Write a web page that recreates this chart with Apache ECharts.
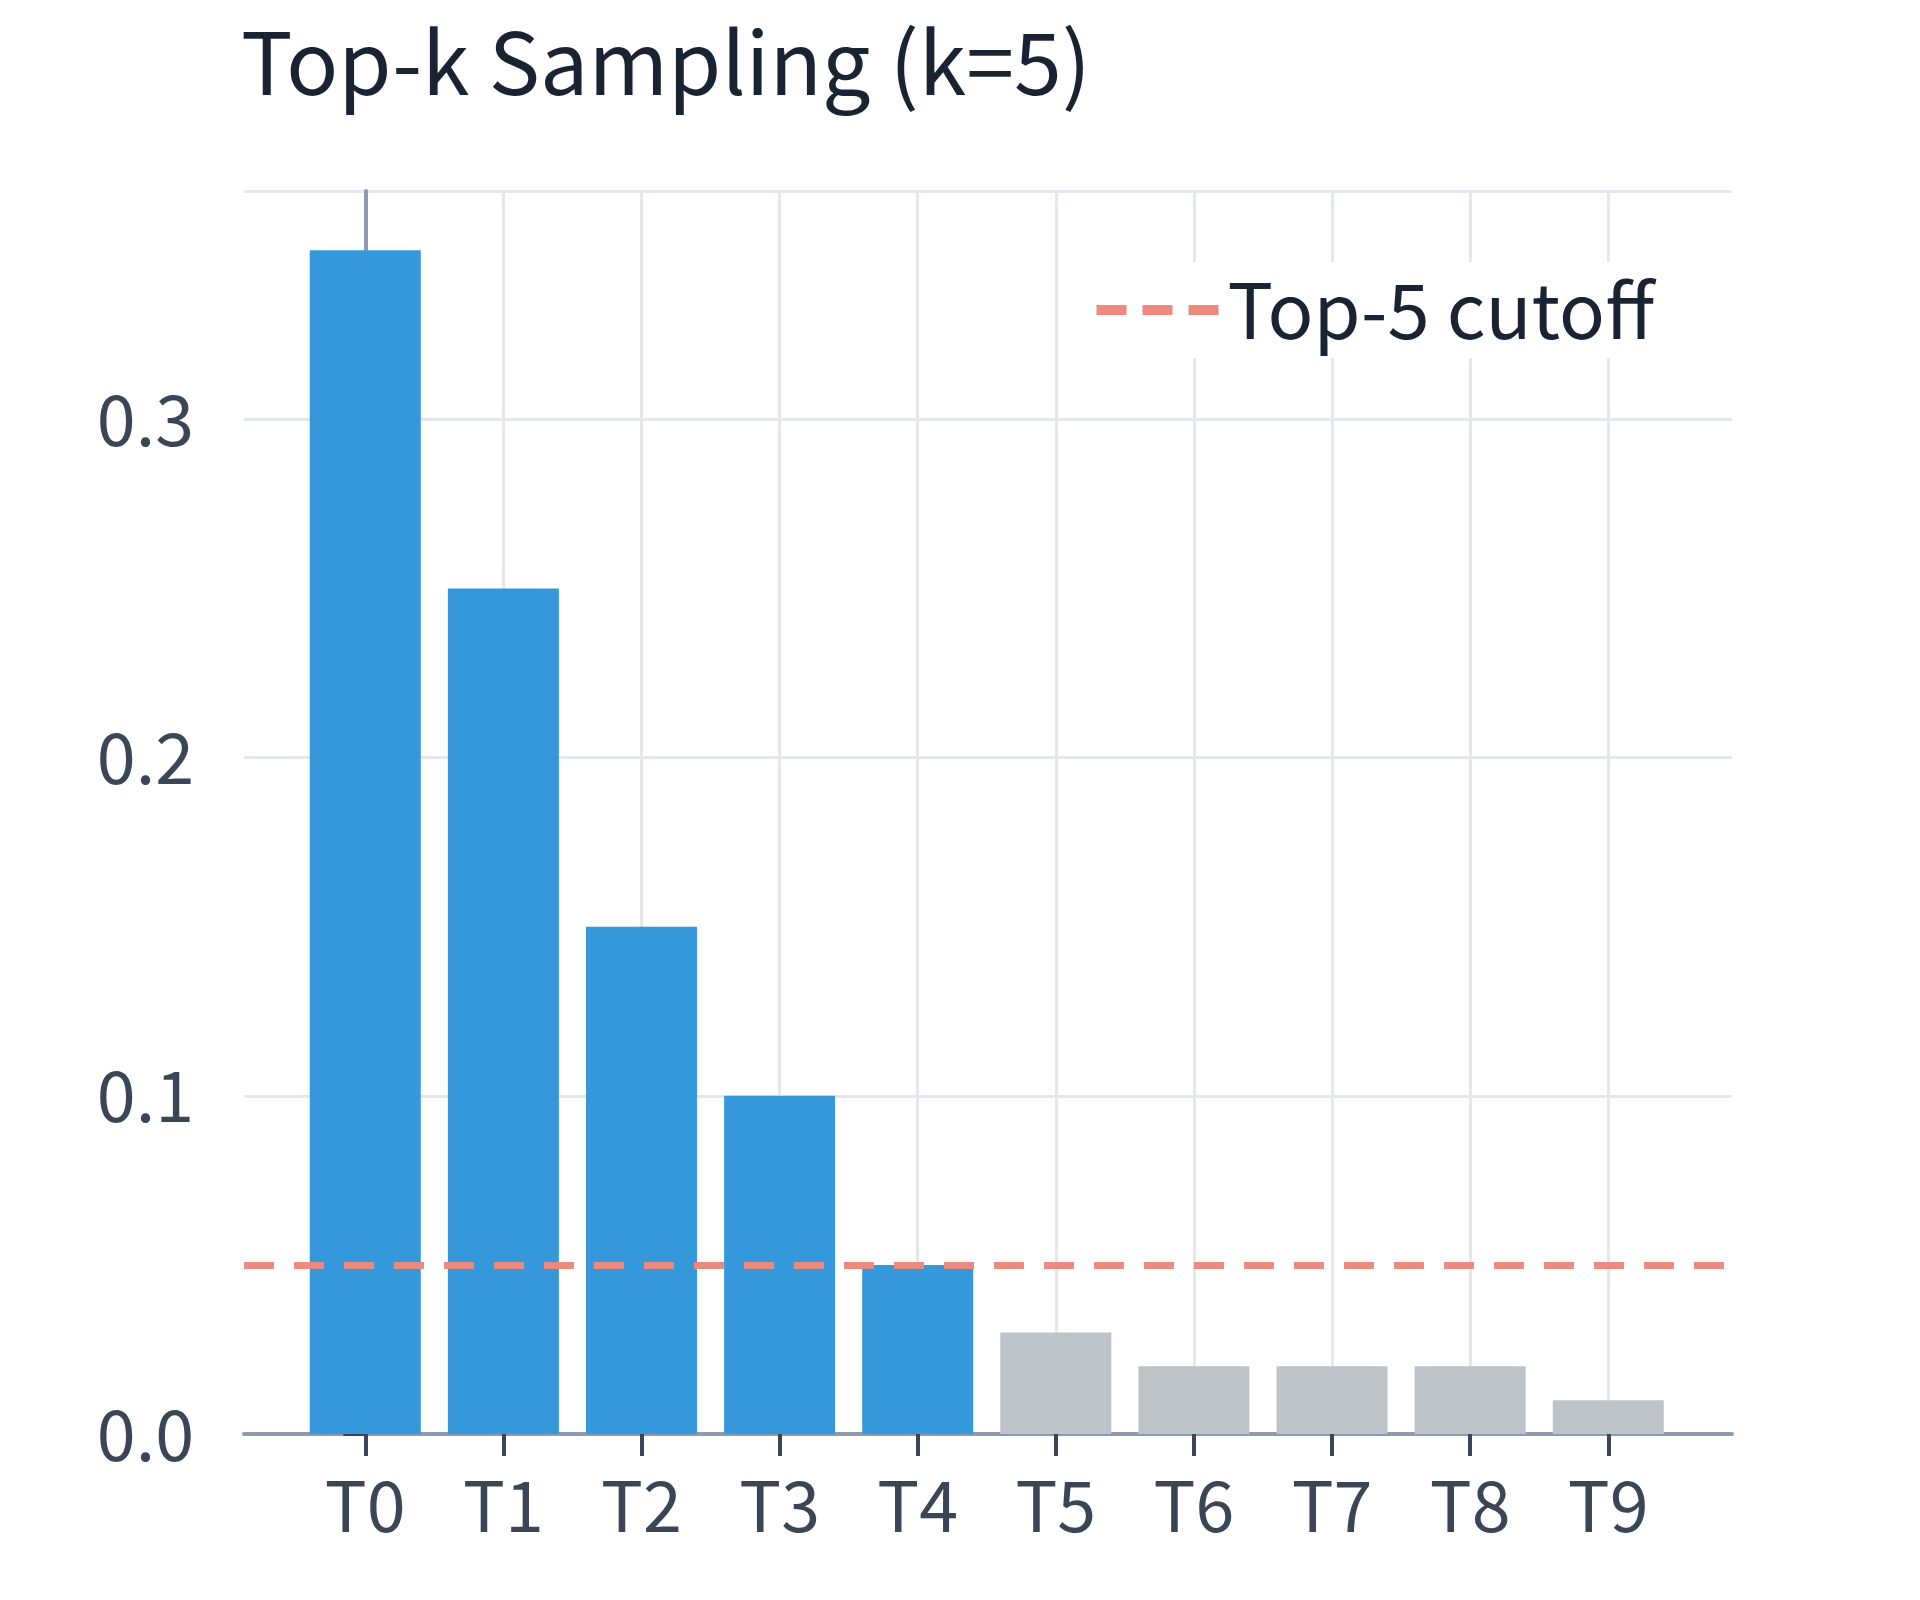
<!DOCTYPE html><html><head><meta charset="utf-8"><script src="https://cdn.jsdelivr.net/npm/echarts@6/dist/echarts.min.js"></script>
<style>html,body{margin:0;background:#fff}#c{width:1920px;height:1600px}</style></head><body><div id="c"></div><script>
const categories=['T0','T1','T2','T3','T4','T5','T6','T7','T8','T9'];
const probs=[0.35,0.25,0.15,0.10,0.05,0.03,0.02,0.02,0.02,0.01];
const k=5;
const cutoff=0.05;
const font='"Noto Sans CJK KR", "Noto Sans", sans-serif';
const idx=categories.map((c,i)=>i);
const chart=echarts.init(document.getElementById('c'));
chart.setOption({
 backgroundColor:'#fff',
 title:{text:'Top-k Sampling (k=5)',left:236,top:14,textStyle:{fontFamily:font,fontSize:86,fontWeight:'normal',color:'#1a2332'}},
 legend:{data:[{name:'Top-5 cutoff',icon:'path://M0,0h30v10h-30z M46,0h30v10h-30z M92,0h30v10h-30z'}],right:258,top:262,backgroundColor:'#fff',padding:[10,8,10,0],itemWidth:130,itemHeight:10,itemGap:44,
   textStyle:{fontFamily:font,fontSize:76,color:'#1a2332'}},
 grid:{left:244,right:188,top:191,bottom:166},
 xAxis:{type:'value',min:-0.878,max:9.896,
   axisLine:{lineStyle:{color:'#8c9bb0',width:4}},
   axisTick:{show:true,customValues:idx,length:22,lineStyle:{color:'#3a4656',width:4}},
   splitLine:{show:true,lineStyle:{color:'#e4e8ee',width:3}},
   axisLabel:{customValues:idx,fontFamily:font,fontSize:70,color:'#3a4656',margin:36,formatter:v=>categories[Math.round(v)]}},
 yAxis:{type:'value',min:0,max:0.3675,interval:0.1,
   axisLine:{show:true,lineStyle:{color:'#8c9bb0',width:4}},
   axisTick:{show:true,length:22,lineStyle:{color:'#3a4656',width:4}},
   splitLine:{lineStyle:{color:'#e4e8ee',width:3}},
   axisLabel:{fontFamily:font,fontSize:70,color:'#3a4656',margin:50,showMaxLabel:false,formatter:v=>v.toFixed(1)}},
 series:[
  {type:'bar',barWidth:111,data:probs.map((v,i)=>({value:[i,v],itemStyle:{color:i<k?'#3498db':'#bdc3c7'}}))},
  {name:'Top-5 cutoff',type:'line',data:[],symbol:'none',itemStyle:{color:'#ec8a80'},lineStyle:{color:'#ec8a80',type:[30,20],width:7},
   markLine:{silent:true,symbol:'none',label:{show:false},lineStyle:{color:'#ec8a80',type:[30,20],width:7,opacity:1},data:[{yAxis:cutoff}],z:10}}
 ]
});
</script></body></html>
